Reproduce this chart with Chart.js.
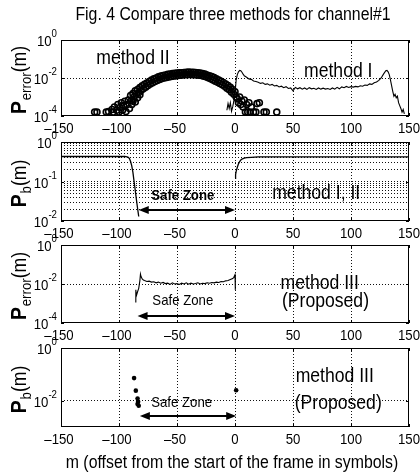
<!DOCTYPE html>
<html>
<head>
<meta charset="utf-8">
<script src="https://cdn.jsdelivr.net/npm/chart.js@4.4.1/dist/chart.umd.min.js"></script>
<style>
  body { margin: 0; background: #fff; }
  #wrap { position: relative; width: 420px; height: 475px; }
  canvas { position: absolute; left: 0; }
</style>
</head>
<body>
<div id="wrap">
  <canvas id="c1" width="420" height="140" style="top:0px"></canvas>
  <canvas id="c2" width="420" height="119" style="top:126px"></canvas>
  <canvas id="c3" width="420" height="118" style="top:229px"></canvas>
  <canvas id="c4" width="420" height="143" style="top:332px"></canvas>
</div>
<script>
const FONT = "'Liberation Sans', Arial, sans-serif";
const SX = 0.88; // squeeze text sideways, the scan uses a narrow face

// offset m, same ticks on every panel
const xTicks = [-150, -100, -50, 0, 50, 100, 150];

// panel 1 - method I (line)
const m1 = [-7,-6,-5,-4,-3,-2,-1,0,1,2,3,4,5,6,7,8,10,12,14,16,18,
  20,22,24,26,28,30,32,34,36,38,40,42,44,46,48,50,52,54,56,58,60,62,64,66,68,70,72,74,76,78,
  80,82,84,86,88,90,92,94,96,98,100,102,104,106,108,110,112,114,116,118,120,122,124,126,
  128,130,131,132,133,134,135,136,137,138,139,140,141,142,143,144,145,146];
const pe1 = [2.0e-4,4.5e-4,2.5e-4,5e-4,1.8e-4,3e-4,6e-4,1.5e-3,8e-3,1.5e-2,2.1e-2,2.5e-2,2.4e-2,2.0e-2,1.6e-2,1.3e-2,1.1e-2,9e-3,8.5e-3,7e-3,6.5e-3,
  6.0e-3,5.2e-3,5.6e-3,4.6e-3,4.9e-3,4.2e-3,4.6e-3,3.8e-3,4.1e-3,3.4e-3,3.7e-3,3.1e-3,3.5e-3,2.8e-3,3.0e-3,2.1e-3,3.2e-3,2.7e-3,3.1e-3,2.6e-3,
  3.0e-3,2.5e-3,3.1e-3,2.7e-3,2.9e-3,2.5e-3,3.0e-3,2.6e-3,2.9e-3,2.6e-3,2.8e-3,2.5e-3,3.0e-3,2.6e-3,3.2e-3,2.7e-3,3.4e-3,3.1e-3,3.6e-3,3.2e-3,
  3.5e-3,3.3e-3,3.6e-3,3.4e-3,3.9e-3,3.7e-3,4.3e-3,4.1e-3,4.9e-3,4.6e-3,5.6e-3,6.2e-3,7.5e-3,1.0e-2,
  1.6e-2,2.4e-2,2.5e-2,2.1e-2,1.5e-2,8e-3,4e-3,2e-3,1.1e-3,1.4e-3,9e-4,1.1e-3,5e-4,3.5e-4,2.5e-4,1.6e-4,2.2e-4,1.3e-4];

// panel 1 - method II (circles): left scatter, main band, right scatter
const m2L = [-121,-119,-111,-109,-106,-105,-104,-102,-101,-100,-99,-98,-97,-96,-95,-94,-93,-92,-91,-89,-88,-86,-84,-82];
const pe2L = [1.6e-4,1.6e-4,1.6e-4,1.7e-4,2.2e-4,1.6e-4,3e-4,2e-4,4e-4,1.6e-4,2.8e-4,5e-4,2e-4,3.5e-4,6e-4,1.7e-4,4e-4,7e-4,2.5e-4,4e-4,6e-4,5.5e-4,9e-4,1.3e-3];
const m2 = [-90,-89,-88,-87,-86,-85,-84,-83,-82,-81,-80,-79,-78,-77,-76,-75,-74,-73,-72,-71,
  -70,-69,-68,-67,-66,-65,-64,-63,-62,-61,-60,-59,-58,-57,-56,-55,-54,-53,-52,-51,
  -50,-49,-48,-47,-46,-45,-44,-43,-42,-41,-40,-39,-38,-37,-36,-35,-34,-33,-32,-31,
  -30,-29,-28,-27,-26,-25,-24,-23,-22,-21,-20,-19,-18,-17,-16,-15,-14,-13,-12,-11,
  -10,-9,-8,-7,-6,-5,-4,-3,-2,-1,0,1];
const pe2 = [1.2e-3,7e-4,1.5e-3,1.0e-3,2.1e-3,1.4e-3,2.5e-3,1.7e-3,3.1e-3,2.2e-3,
  3.9e-3,2.7e-3,4.6e-3,3.3e-3,5.5e-3,4.0e-3,6.6e-3,4.8e-3,7.7e-3,5.6e-3,
  9.0e-3,6.5e-3,1.0e-2,7.4e-3,1.15e-2,8.4e-3,1.25e-2,9.3e-3,1.35e-2,1.0e-2,
  1.45e-2,1.07e-2,1.55e-2,1.14e-2,1.6e-2,1.2e-2,1.7e-2,1.26e-2,1.75e-2,1.3e-2,
  1.8e-2,1.35e-2,1.85e-2,1.4e-2,1.9e-2,1.45e-2,1.95e-2,1.5e-2,2.0e-2,1.5e-2,
  2.05e-2,1.55e-2,2.0e-2,1.5e-2,2.0e-2,1.5e-2,1.95e-2,1.45e-2,1.9e-2,1.4e-2,
  1.8e-2,1.35e-2,1.7e-2,1.25e-2,1.6e-2,1.15e-2,1.45e-2,1.02e-2,1.3e-2,9.0e-3,
  1.2e-2,7.8e-3,1.05e-2,6.8e-3,9.0e-3,5.9e-3,7.9e-3,5.1e-3,6.8e-3,4.4e-3,
  5.8e-3,3.7e-3,4.8e-3,2.9e-3,4.0e-3,2.4e-3,3.2e-3,1.8e-3,2.5e-3,1.4e-3,
  1.9e-3,1.0e-3];
const m2R = [2,3,4,5,6,7,8,9,10,11,12,13,14,16,18,19,21,25,27,36];
const pe2R = [8e-4,5e-4,1e-3,4e-4,6e-4,3e-4,7e-4,1.6e-4,4e-4,1.6e-4,5e-4,1.6e-4,3e-4,1.6e-4,1.6e-4,4.5e-4,5e-4,1.6e-4,1.6e-4,1.6e-4];

// panel 2 - P_b for method I, II (two pieces)
const mbA = [-150,-130,-110,-95,-93,-92,-91,-90,-89,-88,-87,-86,-85,-84,-83];
const pbA = [0.43,0.43,0.43,0.43,0.42,0.41,0.38,0.32,0.25,0.17,0.10,0.06,0.035,0.021,0.013];
const mbB = [0,0.5,1,2,3,4,5,6,8,10,14,20,60,100,150];
const pbB = [0.12,0.15,0.18,0.23,0.28,0.32,0.35,0.37,0.39,0.40,0.41,0.42,0.42,0.42,0.42];

// panel 3 - P_error for method III
const m3 = [-86,-85.5,-85,-84,-83,-82,-81.5,-81,-80,-79,-78,-76,-74,-72,-70,-68,-66,-64,-62,-60,-58,-56,-54,-52,-50,
  -48,-46,-44,-42,-40,-38,-36,-34,-32,-30,-28,-26,-24,-22,-20,-18,-16,-14,-12,-10,-8,-6,-4,-2,-1,0,0.3];
const pe3 = [1.2e-3,5e-3,2.5e-3,4e-3,6e-3,1.5e-2,3.2e-2,2.4e-2,1.8e-2,1.6e-2,1.5e-2,
  1.35e-2,1.4e-2,1.25e-2,1.3e-2,1.15e-2,1.25e-2,1.1e-2,1.2e-2,1.05e-2,1.1e-2,
  9.5e-3,1.15e-2,1.0e-2,1.05e-2,9.5e-3,1.1e-2,1.0e-2,1.15e-2,9.8e-3,1.1e-2,
  1.0e-2,1.05e-2,1.15e-2,1.0e-2,1.1e-2,1.05e-2,1.15e-2,1.1e-2,1.2e-2,1.15e-2,
  1.25e-2,1.2e-2,1.35e-2,1.3e-2,1.45e-2,1.5e-2,1.7e-2,1.9e-2,2.2e-2,3.0e-2,5e-3];

// panel 4 - P_b for method III (points)
const m4 = [-87,-85.5,-84,-83.5,-84,-83,1];
const pb4 = [0.072,0.024,0.012,0.009,0.0075,0.0064,0.025];

// y ticks / grid
const yLab1 = [1, 1e-2, 1e-4];
const yLab2 = [1, 1e-1, 1e-2];
const yGrid2 = [0.02,0.03,0.04,0.05,0.06,0.07,0.08,0.09,0.1,0.2,0.3,0.4,0.5,0.6,0.7,0.8,0.9];
const yLab4 = [1, 1e-2];

function pts(xs, ys) { return xs.map((x, i) => ({ x: x, y: ys[i] })); }

const lineDs = (xs, ys, w) => ({ data: pts(xs, ys), showLine: true, pointRadius: 0, borderColor: '#000', borderWidth: w || 1.1, fill: false });

// squeezed text
function txt(c, s, x, y, size, align, weight) {
  c.save();
  c.font = (weight ? weight + ' ' : '') + size + 'px ' + FONT;
  c.translate(x, y);
  c.scale(SX, 1);
  c.textAlign = align || 'center';
  c.textBaseline = 'middle';
  c.fillText(s, 0, 0);
  c.restore();
}

// draws box, tick labels, axis title and text notes
const deco = {
  id: 'deco',
  afterDraw(chart, args, o) {
    const c = chart.ctx, ca = chart.chartArea, xs = chart.scales.x, ys = chart.scales.y;
    c.save();
    c.fillStyle = '#000'; c.strokeStyle = '#000'; c.lineWidth = 1;
    c.strokeRect(ca.left + 0.5, ca.top + 0.5, ca.right - ca.left - 1, ca.bottom - ca.top - 1);
    c.beginPath();
    xTicks.forEach(v => {
      const px = Math.round(xs.getPixelForValue(v)) + 0.5;
      c.moveTo(px, ca.bottom); c.lineTo(px, ca.bottom - 3);
      c.moveTo(px, ca.top); c.lineTo(px, ca.top + 3);
    });
    o.yLabels.forEach(v => {
      const py = Math.round(ys.getPixelForValue(v)) + 0.5;
      c.moveTo(ca.left, py); c.lineTo(ca.left + 3, py);
      c.moveTo(ca.right, py); c.lineTo(ca.right - 3, py);
    });
    c.stroke();

    // x tick labels
    xTicks.forEach(v => {
      const s = v < 0 ? '\u2013' + Math.abs(v) : String(v);
      txt(c, s, xs.getPixelForValue(v) - (v < 0 ? 2 : 0), ca.bottom + 13, 15);
    });

    // 10^n labels
    o.yLabels.forEach(v => {
      const py = ys.getPixelForValue(v);
      const e = String(Math.round(Math.log10(v)));
      c.font = '11px ' + FONT;
      const ew = c.measureText(e).width * SX;
      txt(c, e, ca.left - 4 - ew, py - 6, 11, 'left');
      txt(c, '10', ca.left - 4 - ew, py + 2, 15, 'right');
    });

    // P_sub(m) rotated title
    c.save();
    c.translate(19, (ca.top + ca.bottom) / 2 + 2);
    c.rotate(-Math.PI / 2);
    c.scale(SX, 1);
    c.textAlign = 'left'; c.textBaseline = 'alphabetic';
    const f1 = 'bold 22px ' + FONT, f2 = '15px ' + FONT, f3 = '20px ' + FONT;
    c.font = f1; const w1 = c.measureText('P').width;
    c.font = f2; const w2 = c.measureText(o.sub).width;
    c.font = f3; const w3 = c.measureText('(m)').width;
    let x = -(w1 + w2 + w3 + 1) / 2;
    c.font = f1; c.fillText('P', x, 7); x += w1 + 1;
    c.font = f2; c.fillText(o.sub, x, 12); x += w2;
    c.font = f3; c.fillText('(m)', x, 7);
    c.restore();

    (o.notes || []).forEach(n => {
      txt(c, n.text, xs.getPixelForValue(n.x), ys.getPixelForValue(n.y), n.size, 'center', n.weight);
    });

    if (o.arrow) {
      const x0 = xs.getPixelForValue(o.arrow.from), x1 = xs.getPixelForValue(o.arrow.to);
      const y = Math.round(ys.getPixelForValue(o.arrow.y));
      c.lineWidth = 2;
      c.beginPath(); c.moveTo(x0 + 6, y); c.lineTo(x1 - 6, y); c.stroke();
      c.beginPath(); c.moveTo(x0, y); c.lineTo(x0 + 10, y - 4); c.lineTo(x0 + 10, y + 4); c.closePath(); c.fill();
      c.beginPath(); c.moveTo(x1, y); c.lineTo(x1 - 10, y - 4); c.lineTo(x1 - 10, y + 4); c.closePath(); c.fill();
    }
    if (o.title) txt(c, o.title, (ca.left + ca.right) / 2 - 2, 15, 18);
    if (o.xlabel) txt(c, o.xlabel, (ca.left + ca.right) / 2 - 3, ca.bottom + 36, 18);
    c.restore();
  }
};

function panel(id, datasets, cfg) {
  return new Chart(document.getElementById(id), {
    type: 'scatter',
    data: { datasets: datasets },
    options: {
      responsive: false,
      animation: false,
      layout: { padding: { left: 0, right: 11, top: cfg.top, bottom: cfg.bottom || 0 } },
      plugins: {
        legend: { display: false },
        tooltip: { enabled: false },
        deco: cfg.deco
      },
      scales: {
        x: {
          type: 'linear', min: -150, max: 150,
          afterBuildTicks: ax => { ax.ticks = xTicks.map(v => ({ value: v })); },
          afterFit: s => { s.height = 24; },
          grid: {
            color: ctx => (ctx.tick && Math.abs(ctx.tick.value) === 150) ? 'rgba(0,0,0,0)' : '#111',
            lineWidth: 1, drawTicks: false
          },
          border: { display: false, dash: [1, 2] },
          ticks: { display: false }
        },
        y: {
          type: 'logarithmic', min: cfg.ymin, max: 1,
          afterBuildTicks: ax => { ax.ticks = cfg.grid.map(v => ({ value: v })); },
          afterFit: s => { s.width = 61; },
          grid: {
            color: ctx => (ctx.tick && (ctx.tick.value === 1 || ctx.tick.value === cfg.ymin)) ? 'rgba(0,0,0,0)' : '#111',
            lineWidth: 1, drawTicks: false
          },
          border: { display: false, dash: [1, 2] },
          ticks: { display: false }
        }
      }
    },
    plugins: [deco]
  });
}

panel('c1', [
  lineDs(m1, pe1),
  { data: pts(m2L.concat(m2, m2R), pe2L.concat(pe2, pe2R)), pointStyle: 'circle', pointRadius: 3,
    borderWidth: 1.6, borderColor: '#000', backgroundColor: 'rgba(0,0,0,0)' }
], {
  top: 40, ymin: 1e-4, grid: [1e-2],
  deco: {
    yLabels: yLab1, sub: 'error', title: 'Fig. 4 Compare three methods for channel#1',
    notes: [
      { text: 'method II', x: -88, y: 0.11, size: 20 },
      { text: 'method I', x: 89, y: 0.021, size: 20 }
    ]
  }
});

panel('c2', [lineDs(mbA, pbA, 1.3), lineDs(mbB, pbB, 1.3)], {
  top: 16, ymin: 1e-2, grid: yGrid2,
  deco: {
    yLabels: yLab2, sub: 'b',
    notes: [
      { text: 'method I, II', x: 70, y: 0.051, size: 20 },
      { text: 'Safe Zone', x: -45, y: 0.043, size: 15, weight: 'bold' }
    ],
    arrow: { from: -83, to: 0, y: 0.019 }
  }
});

panel('c3', [lineDs(m3, pe3)], {
  top: 16, ymin: 1e-4, grid: [1e-2],
  deco: {
    yLabels: yLab1, sub: 'error',
    notes: [
      { text: 'Safe Zone', x: -45, y: 1.4e-3, size: 15 },
      { text: 'method III', x: 73, y: 1.1e-2, size: 20 },
      { text: '(Proposed)', x: 78, y: 1.25e-3, size: 20 }
    ],
    arrow: { from: -84, to: 0, y: 2.3e-4 }
  }
});

panel('c4', [
  { data: pts(m4, pb4), pointStyle: 'circle', pointRadius: 2.3, borderWidth: 0, backgroundColor: '#000' }
], {
  top: 16, bottom: 24, ymin: 1e-3, grid: [1e-2],
  deco: {
    yLabels: yLab4, sub: 'b', xlabel: 'm (offset from the start of the frame in symbols)',
    notes: [
      { text: 'Safe Zone', x: -46, y: 8.1e-3, size: 15 },
      { text: 'method III', x: 86, y: 0.081, size: 20 },
      { text: '(Proposed)', x: 89, y: 8.1e-3, size: 20 }
    ],
    arrow: { from: -82, to: 1, y: 2.6e-3 }
  }
});
</script>
</body>
</html>
